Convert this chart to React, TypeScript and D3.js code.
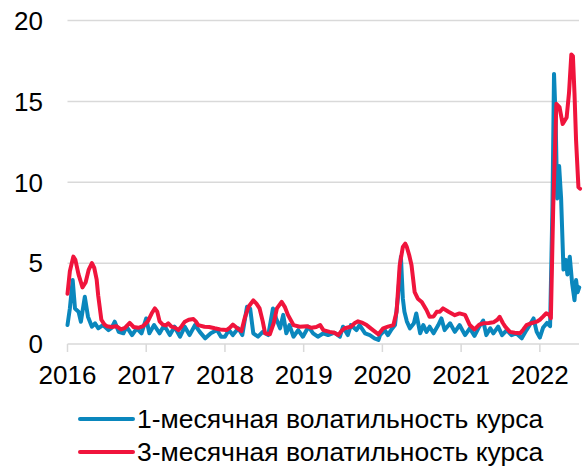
import React from "react";
import * as d3 from "d3";

const blueYears = [0.0,0.03,0.066,0.095,0.14,0.17,0.22,0.26,0.31,0.35,0.39,0.45,0.52,0.56,0.6,0.65,0.71,0.75,0.82,0.88,0.94,1.0,1.04,1.1,1.17,1.21,1.25,1.3,1.36,1.43,1.49,1.55,1.62,1.68,1.75,1.82,1.9,1.95,2.0,2.05,2.1,2.17,2.22,2.28,2.32,2.36,2.42,2.48,2.55,2.61,2.65,2.7,2.74,2.78,2.82,2.87,2.93,2.99,3.06,3.12,3.18,3.25,3.31,3.39,3.46,3.5,3.56,3.6,3.67,3.71,3.78,3.84,3.9,3.95,3.97,4.03,4.07,4.11,4.16,4.2,4.235,4.26,4.28,4.31,4.35,4.4,4.43,4.48,4.52,4.56,4.6,4.65,4.71,4.75,4.79,4.86,4.92,4.98,5.05,5.11,5.17,5.23,5.28,5.32,5.37,5.41,5.47,5.52,5.58,5.64,5.7,5.77,5.83,5.87,5.92,5.96,6.0,6.04,6.09,6.13,6.16,6.18,6.2,6.22,6.245,6.27,6.3,6.33,6.35,6.38,6.41,6.44,6.46,6.48,6.5].map((d) => 2016 + d);
const blueValues = [1.17,2.2,3.95,2.2,2.0,1.38,2.92,1.69,1.07,1.28,0.97,1.17,0.86,1.0,1.38,0.75,0.66,1.07,0.55,0.97,0.66,1.58,0.66,1.17,0.66,1.0,0.97,0.55,1.07,0.45,1.07,0.55,1.17,0.75,0.35,0.66,0.86,0.45,0.45,0.86,0.55,0.97,0.55,2.3,2.2,0.66,0.45,0.75,0.55,2.2,1.58,0.97,1.8,0.66,1.17,0.45,0.86,0.45,1.07,0.66,0.45,0.66,0.55,0.7,0.45,1.07,0.55,1.17,0.86,1.17,0.66,0.55,0.35,0.25,0.55,0.86,0.55,0.86,1.17,3.0,5.4,2.8,1.99,1.4,0.97,1.28,1.89,0.66,1.17,0.75,1.07,0.66,1.17,1.58,0.86,1.28,0.75,1.17,0.55,0.97,0.5,1.07,1.45,0.55,0.97,0.66,1.07,0.55,0.86,0.55,0.66,0.35,0.86,1.17,1.58,0.75,0.4,1.0,1.3,1.1,8.5,16.7,14.0,9.0,11.0,9.0,4.6,5.2,4.3,5.4,3.75,2.7,3.95,3.2,3.5];

const redYears = [0.0,0.03,0.074,0.1,0.14,0.19,0.23,0.27,0.31,0.34,0.37,0.39,0.43,0.47,0.5,0.56,0.62,0.68,0.73,0.79,0.84,0.9,0.96,1.02,1.07,1.11,1.14,1.17,1.21,1.25,1.28,1.32,1.37,1.41,1.45,1.49,1.54,1.6,1.63,1.66,1.74,1.8,1.87,1.94,2.02,2.06,2.1,2.15,2.21,2.25,2.3,2.36,2.4,2.44,2.48,2.51,2.57,2.62,2.66,2.72,2.76,2.8,2.87,2.95,3.04,3.1,3.16,3.21,3.25,3.33,3.39,3.44,3.48,3.52,3.6,3.65,3.69,3.75,3.8,3.88,3.95,4.01,4.07,4.14,4.18,4.22,4.26,4.29,4.31,4.34,4.37,4.41,4.45,4.5,4.56,4.6,4.65,4.69,4.73,4.77,4.84,4.92,4.98,5.05,5.11,5.17,5.23,5.28,5.35,5.41,5.46,5.49,5.53,5.56,5.62,5.68,5.75,5.79,5.83,5.9,5.96,6.0,6.04,6.08,6.12,6.14,6.17,6.21,6.25,6.29,6.34,6.37,6.4,6.42,6.44,6.46,6.49,6.51].map((d) => 2016 + d);
const redValues = [3.1,4.5,5.4,5.2,4.3,3.5,3.8,4.6,5.0,4.7,4.0,3.0,1.5,1.2,1.1,1.05,1.1,0.9,1.0,1.3,1.05,1.0,1.1,1.4,1.9,2.2,2.0,1.4,1.2,1.15,1.28,1.07,1.0,0.86,1.1,1.38,1.5,1.54,1.4,1.17,1.07,1.05,0.97,0.9,0.86,1.0,1.2,1.0,0.8,1.58,2.3,2.7,2.5,2.2,1.4,0.66,0.6,1.3,2.2,2.6,2.3,1.8,1.17,1.07,1.1,1.0,1.05,1.17,0.86,0.75,0.7,0.55,0.8,0.97,1.07,1.3,1.4,1.3,1.17,0.86,0.6,0.97,1.07,1.17,1.99,4.87,6.0,6.2,6.0,5.5,4.87,3.2,2.8,2.6,2.1,1.68,1.7,1.99,2.0,2.2,1.99,1.78,1.89,1.8,1.17,0.9,1.2,1.28,1.3,1.34,1.5,1.68,1.3,1.07,0.75,0.7,0.66,0.9,1.17,1.3,1.38,1.5,1.69,1.9,1.8,1.6,8.5,14.85,14.65,13.6,14.0,15.5,17.9,17.8,15.5,12.6,9.7,9.6];

const yTicks = [0, 5, 10, 15, 20];
const xTicks = [2016, 2017, 2018, 2019, 2020, 2021, 2022];
const seriesNames = ["1-месячная волатильность курса", "3-месячная волатильность курса"];
const seriesColors = ["#0a87bd", "#f0143c"];

export default function App() {
  const W = 584, H = 472;
  const x = d3.scaleLinear().domain([2016, 2022.51]).range([67.5, 580]);
  const y = d3.scaleLinear().domain([0, 20]).range([344, 20.5]);
  const line = d3.line<[number, number]>().x((d) => x(d[0])).y((d) => y(d[1])).curve(d3.curveLinear);
  const blue = blueYears.map((t, i) => [t, blueValues[i]] as [number, number]);
  const red = redYears.map((t, i) => [t, redValues[i]] as [number, number]);
  const font = "'Liberation Sans', Arial, sans-serif";
  return (
    <svg width={W} height={H} style={{ position: "absolute", left: 0, top: 0 }}>
      <rect width={W} height={H} fill="#fff" />
      {yTicks.map((v) => (
        <g key={v}>
          <line x1={67.5} x2={579} y1={y(v)} y2={y(v)} stroke="#d9d9d9" strokeWidth={1.5} />
          <text x={43} y={y(v) + 9.3} textAnchor="end" fontFamily={font} fontSize={26} fill="#000">{v}</text>
        </g>
      ))}
      {xTicks.map((t) => (
        <g key={t}>
          <line x1={x(t)} x2={x(t)} y1={344} y2={352} stroke="#d9d9d9" strokeWidth={1.5} />
          <text x={x(t)} y={384} textAnchor="middle" fontFamily={font} fontSize={26} fill="#000">{t}</text>
        </g>
      ))}
      <path d={line(blue) || ""} fill="none" stroke={seriesColors[0]} strokeWidth={4} strokeLinejoin="round" strokeLinecap="round" />
      <path d={line(red) || ""} fill="none" stroke={seriesColors[1]} strokeWidth={4} strokeLinejoin="round" strokeLinecap="round" />
      {seriesNames.map((n, i) => (
        <g key={n}>
          <line x1={80} x2={133} y1={419 + i * 33} y2={419 + i * 33} stroke={seriesColors[i]} strokeWidth={4} strokeLinecap="round" />
          <text x={137} y={419 + i * 33 + 9.3} fontFamily={font} fontSize={26.5} fill="#000">{n}</text>
        </g>
      ))}
    </svg>
  );
}
